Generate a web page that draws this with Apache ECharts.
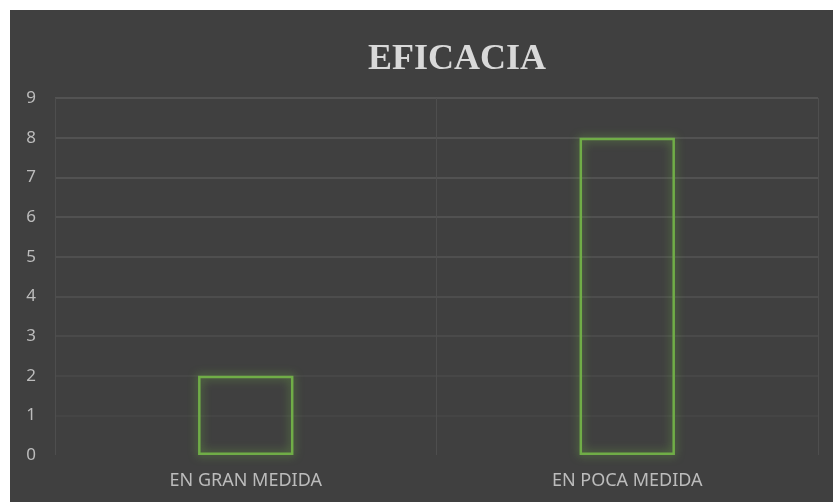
<!DOCTYPE html>
<html>
<head>
<meta charset="utf-8">
<script src="https://cdn.jsdelivr.net/npm/echarts@6/dist/echarts.min.js"></script>
<style>
html,body{margin:0;padding:0;background:#ffffff;width:833px;height:502px;overflow:hidden;}
#chart{position:absolute;left:10px;top:10px;width:823px;height:492px;}
</style>
</head>
<body>
<div id="chart"></div>
<script>
const titleText = 'EFICACIA';
const categories = ['EN GRAN MEDIDA', 'EN POCA MEDIDA'];
const values = [2, 8];
const yTicks = [0, 1, 2, 3, 4, 5, 6, 7, 8, 9];

const chart = echarts.init(document.getElementById('chart'));
chart.setOption({
  backgroundColor: '#404040',
  animation: false,
  title: {
    text: titleText,
    left: 353,
    top: 27,
    textStyle: {
      fontFamily: 'Liberation Serif',
      fontWeight: 'bold',
      fontSize: 36,
      color: '#d9d9d9'
    }
  },
  grid: { left: 45, right: 15, top: 88, bottom: 47 },
  xAxis: {
    type: 'category',
    data: categories,
    axisLine: { show: false },
    axisTick: { show: false },
    splitLine: { show: true, lineStyle: { color: '#4e4e4e', width: 1 } },
    axisLabel: {
      color: '#bcbcbc',
      fontFamily: 'Noto Sans',
      fontSize: 18,
      margin: 17
    }
  },
  yAxis: {
    type: 'value',
    min: yTicks[0],
    max: yTicks[yTicks.length - 1],
    interval: 1,
    axisLine: { show: false },
    axisTick: { show: false },
    splitLine: {
      lineStyle: {
        width: 1.5,
        color: ['#404040', '#474747', '#4a4a4a', '#4e4e4e', '#525252', '#555555', '#575757', '#585858', '#595959', '#5a5a5a']
      }
    },
    axisLabel: {
      color: '#bcbcbc',
      fontFamily: 'Noto Sans',
      fontSize: 17,
      margin: 19
    }
  },
  series: [{
    type: 'bar',
    data: values,
    barWidth: '25%',
    itemStyle: {
      color: 'rgba(0,0,0,0)',
      borderColor: '#70ad47',
      borderWidth: 2.5,
      shadowBlur: 10,
      shadowColor: 'rgba(112,173,71,0.85)'
    }
  }]
});
</script>
</body>
</html>
